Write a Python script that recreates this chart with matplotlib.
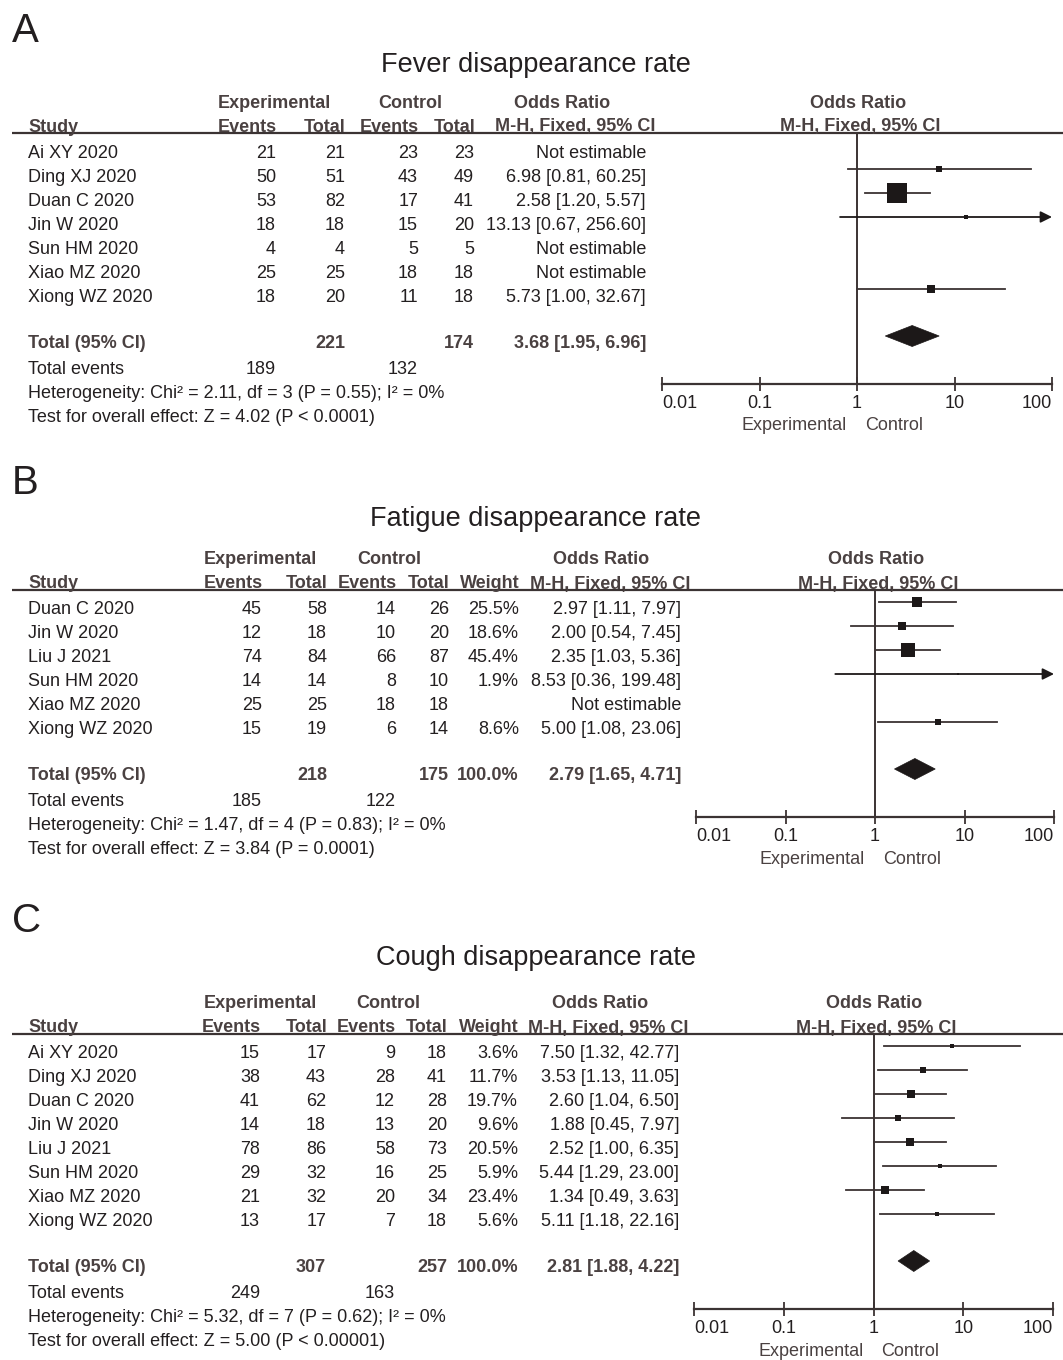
import matplotlib
matplotlib.use('Agg')
import matplotlib.pyplot as plt
from matplotlib.patches import Polygon

plt.rcParams['font.family'] = ['Liberation Sans', 'DejaVu Sans']

# ---- A: fever ----
studies_a = ['Ai XY 2020', 'Ding XJ 2020', 'Duan C 2020', 'Jin W 2020',
             'Sun HM 2020', 'Xiao MZ 2020', 'Xiong WZ 2020']
exp_events_a = [21, 50, 53, 18, 4, 25, 18]
exp_total_a = [21, 51, 82, 18, 4, 25, 20]
ctl_events_a = [23, 43, 17, 15, 5, 18, 11]
ctl_total_a = [23, 49, 41, 20, 5, 18, 18]
or_a = [None, 6.98, 2.58, 13.13, None, None, 5.73]
lo_a = [None, 0.81, 1.20, 0.67, None, None, 1.00]
hi_a = [None, 60.25, 5.57, 256.60, None, None, 32.67]
box_w_a = [None, 8.3, 77.0, 3.7, None, None, 11.0]   # weights, not printed
total_a = dict(exp=221, ctl=174, weight=None, est=3.68, lo=1.95, hi=6.96,
               ev_exp=189, ev_ctl=132,
               het='Heterogeneity: Chi² = 2.11, df = 3 (P = 0.55); I² = 0%',
               test='Test for overall effect: Z = 4.02 (P < 0.0001)')

# ---- B: fatigue ----
studies_b = ['Duan C 2020', 'Jin W 2020', 'Liu J 2021', 'Sun HM 2020',
             'Xiao MZ 2020', 'Xiong WZ 2020']
exp_events_b = [45, 12, 74, 14, 25, 15]
exp_total_b = [58, 18, 84, 14, 25, 19]
ctl_events_b = [14, 10, 66, 8, 18, 6]
ctl_total_b = [26, 20, 87, 10, 18, 14]
weight_b = [25.5, 18.6, 45.4, 1.9, None, 8.6]
or_b = [2.97, 2.00, 2.35, 8.53, None, 5.00]
lo_b = [1.11, 0.54, 1.03, 0.36, None, 1.08]
hi_b = [7.97, 7.45, 5.36, 199.48, None, 23.06]
total_b = dict(exp=218, ctl=175, weight=100.0, est=2.79, lo=1.65, hi=4.71,
               ev_exp=185, ev_ctl=122,
               het='Heterogeneity: Chi² = 1.47, df = 4 (P = 0.83); I² = 0%',
               test='Test for overall effect: Z = 3.84 (P = 0.0001)')

# ---- C: cough ----
studies_c = ['Ai XY 2020', 'Ding XJ 2020', 'Duan C 2020', 'Jin W 2020',
             'Liu J 2021', 'Sun HM 2020', 'Xiao MZ 2020', 'Xiong WZ 2020']
exp_events_c = [15, 38, 41, 14, 78, 29, 21, 13]
exp_total_c = [17, 43, 62, 18, 86, 32, 32, 17]
ctl_events_c = [9, 28, 12, 13, 58, 16, 20, 7]
ctl_total_c = [18, 41, 28, 20, 73, 25, 34, 18]
weight_c = [3.6, 11.7, 19.7, 9.6, 20.5, 5.9, 23.4, 5.6]
or_c = [7.50, 3.53, 2.60, 1.88, 2.52, 5.44, 1.34, 5.11]
lo_c = [1.32, 1.13, 1.04, 0.45, 1.00, 1.29, 0.49, 1.18]
hi_c = [42.77, 11.05, 6.50, 7.97, 6.35, 23.00, 3.63, 22.16]
total_c = dict(exp=307, ctl=257, weight=100.0, est=2.81, lo=1.88, hi=4.22,
               ev_exp=249, ev_ctl=163,
               het='Heterogeneity: Chi² = 5.32, df = 7 (P = 0.62); I² = 0%',
               test='Test for overall effect: Z = 5.00 (P < 0.00001)')

xticks = [0.01, 0.1, 1, 10, 100]
xtick_labels = ['0.01', '0.1', '1', '10', '100']

W, H = 1063, 1360
TXT = '#231f20'
HEAD = '#4a4141'
LINE = '#3b3333'
MARK = '#1c1818'
FS = 13

fig = plt.figure(figsize=(W / 100, H / 100), dpi=100)
bg = fig.add_axes([0, 0, 1, 1])
bg.set_xlim(0, W)
bg.set_ylim(H, 0)
bg.axis('off')


def put(x, y, s, ha='left', size=FS, bold=False, color=TXT):
    # y is the visual centre of the caps
    bg.text(x, y + 0.36 * size * 100 / 72, s, ha=ha, va='baseline', fontsize=size,
            fontweight='bold' if bold else 'normal', color=color)


def panel(letter, title, ys, studies, ee, et, ce, ct, est, lo, hi, weight,
          box_w, box_k, total, cols, hcols, fx0, fx1, show_weight):
    y_letter, y_title, h1 = ys
    put(12, y_letter, letter, size=29)
    put(536, y_title, title, ha='center', size=19.5)
    h2, hl = h1 + 24, h1 + 32
    # column headers
    put(hcols['exp'], h1, 'Experimental', ha='center', bold=True, color=HEAD)
    put(hcols['ctl'], h1, 'Control', ha='center', bold=True, color=HEAD)
    put(hcols['or'], h1, 'Odds Ratio', ha='center', bold=True, color=HEAD)
    put((fx0 + fx1) / 2 + 1, h1, 'Odds Ratio', ha='center', bold=True, color=HEAD)
    put(28, h2, 'Study', bold=True, color=HEAD)
    put(cols['ee'] + 1, h2, 'Events', ha='right', bold=True, color=HEAD)
    put(cols['et'] + 1, h2, 'Total', ha='right', bold=True, color=HEAD)
    put(cols['ce'] + 1, h2, 'Events', ha='right', bold=True, color=HEAD)
    put(cols['ct'] + 1, h2, 'Total', ha='right', bold=True, color=HEAD)
    if show_weight:
        put(cols['w'] + 1, h2, 'Weight', ha='right', bold=True, color=HEAD)
    put(cols['or'] + 9, h2, 'M-H, Fixed, 95% CI', ha='right', bold=True, color=HEAD)
    put((fx0 + fx1) / 2 + 3, h2, 'M-H, Fixed, 95% CI', ha='center', bold=True, color=HEAD)
    bg.plot([12, W], [hl, hl], color=LINE, lw=1.6, solid_capstyle='butt')

    row0 = hl + 18
    step = 24
    rows = [row0 + i * step for i in range(len(studies))]
    for i, y in enumerate(rows):
        put(28, y, studies[i])
        put(cols['ee'], y, str(ee[i]), ha='right')
        put(cols['et'], y, str(et[i]), ha='right')
        put(cols['ce'], y, str(ce[i]), ha='right')
        put(cols['ct'], y, str(ct[i]), ha='right')
        if show_weight and weight[i] is not None:
            put(cols['w'], y, f'{weight[i]:.1f}%', ha='right')
        if est[i] is None:
            put(cols['or'], y, 'Not estimable', ha='right')
        else:
            put(cols['or'], y, f'{est[i]:.2f} [{lo[i]:.2f}, {hi[i]:.2f}]', ha='right')

    ty = rows[-1] + 46
    put(28, ty, 'Total (95% CI)', bold=True, color=HEAD)
    put(cols['et'], ty, str(total['exp']), ha='right', bold=True, color=HEAD)
    put(cols['ct'], ty, str(total['ctl']), ha='right', bold=True, color=HEAD)
    if show_weight:
        put(cols['w'], ty, f"{total['weight']:.1f}%", ha='right', bold=True, color=HEAD)
    put(cols['or'], ty, f"{total['est']:.2f} [{total['lo']:.2f}, {total['hi']:.2f}]",
        ha='right', bold=True, color=HEAD)
    put(28, ty + 26, 'Total events')
    put(cols['ee'], ty + 26, str(total['ev_exp']), ha='right')
    put(cols['ce'], ty + 26, str(total['ev_ctl']), ha='right')
    put(28, ty + 50, total['het'])
    put(28, ty + 74, total['test'])

    # forest plot: data y is the figure pixel row
    axis_y = ty + 43
    ax = fig.add_axes([fx0 / W, (H - axis_y) / H, (fx1 - fx0) / W, (axis_y - hl) / H])
    ax.set_xscale('log')
    ax.set_xlim(0.01, 100)
    ax.set_ylim(axis_y, hl)
    ax.patch.set_visible(False)
    for s in ['top', 'left', 'right']:
        ax.spines[s].set_visible(False)
    ax.spines['bottom'].set_color(LINE)
    ax.spines['bottom'].set_linewidth(1.6)
    ax.set_yticks([])
    ax.set_xticks(xticks)
    ax.set_xticklabels(xtick_labels)
    ax.minorticks_off()
    ax.tick_params(axis='x', direction='inout', length=10, width=1.3, color=LINE,
                   labelsize=FS, labelcolor=TXT, pad=3)
    labels = ax.get_xticklabels()
    labels[0].set_horizontalalignment('left')
    labels[-1].set_horizontalalignment('right')
    ax.axvline(1, color=LINE, lw=1.4)

    for i, y in enumerate(rows):
        if est[i] is None:
            continue
        yy = y - 6
        if hi[i] > 100:
            ax.annotate('', xy=(100, yy), xytext=(lo[i], yy), annotation_clip=False,
                        arrowprops=dict(arrowstyle='-|>', color=MARK, lw=1.3,
                                        mutation_scale=17, shrinkA=0, shrinkB=0))
        else:
            ax.plot([lo[i], hi[i]], [yy, yy], color=LINE, lw=1.3, clip_on=False)
        side = box_k * box_w[i] ** 0.5
        ax.plot(est[i], yy, marker='s', markersize=side * 0.72, color=MARK,
                markeredgewidth=0, clip_on=False)

    dy = ty - 5
    ax.add_patch(Polygon([(total['lo'], dy), (total['est'], dy - 10.5),
                          (total['hi'], dy), (total['est'], dy + 10.5)],
                         closed=True, facecolor=MARK, edgecolor=MARK, lw=0.5,
                         clip_on=False))
    mid = fx0 + (fx1 - fx0) / 2
    put(mid - 10, axis_y + 40, 'Experimental', ha='right', color=HEAD)
    put(mid + 8, axis_y + 40, 'Control', color=HEAD)


panel('A', 'Fever disappearance rate', (27, 62, 101), studies_a, exp_events_a,
      exp_total_a, ctl_events_a, ctl_total_a, or_a, lo_a, hi_a, None, box_w_a, 2.39,
      total_a, {'ee': 276, 'et': 345, 'ce': 418, 'ct': 474, 'w': None, 'or': 646},
      {'exp': 274, 'ctl': 410, 'or': 562}, 662, 1052, False)

panel('B', 'Fatigue disappearance rate', (480, 516, 558), studies_b, exp_events_b,
      exp_total_b, ctl_events_b, ctl_total_b, or_b, lo_b, hi_b, weight_b, weight_b,
      1.93, total_b,
      {'ee': 262, 'et': 327, 'ce': 396, 'ct': 449, 'w': 519, 'or': 681},
      {'exp': 260, 'ctl': 389, 'or': 601}, 696, 1054, True)

panel('C', 'Cough disappearance rate', (917, 955, 1002), studies_c, exp_events_c,
      exp_total_c, ctl_events_c, ctl_total_c, or_c, lo_c, hi_c, weight_c, weight_c,
      1.65, total_c,
      {'ee': 260, 'et': 326, 'ce': 395, 'ct': 447, 'w': 518, 'or': 679},
      {'exp': 260, 'ctl': 388, 'or': 600}, 694, 1053, True)

fig.savefig('out.png', dpi=100, facecolor='white')
